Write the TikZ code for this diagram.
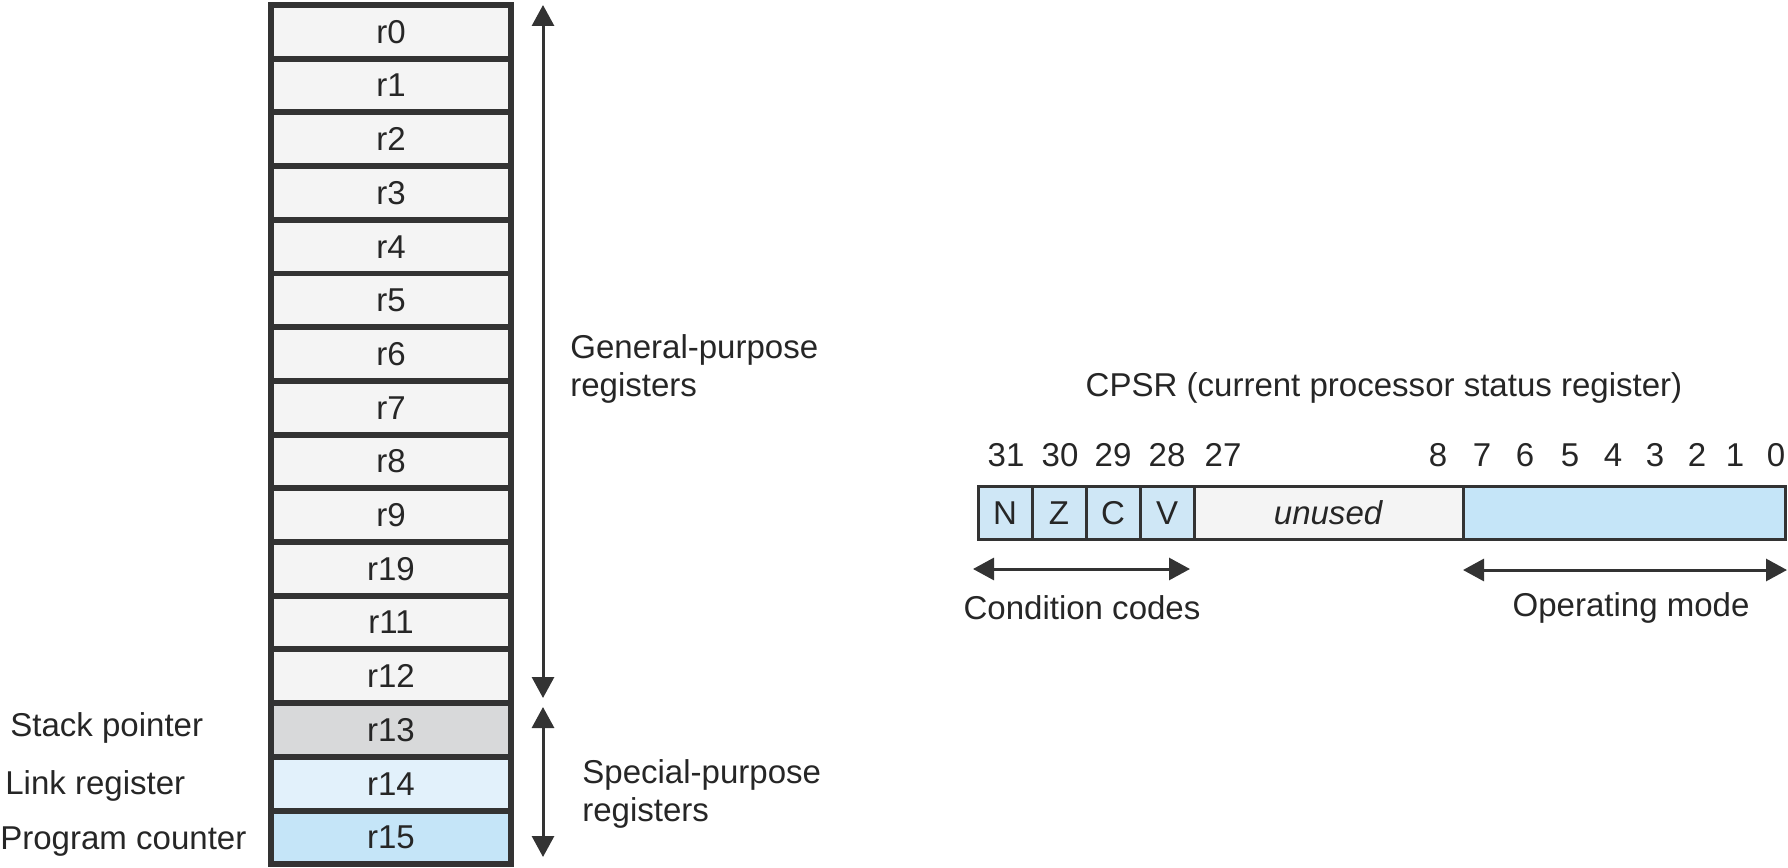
\documentclass[tikz,border=0pt]{standalone}
\usepackage{fontspec}
\setmainfont{Liberation Sans}
\usepackage{tikz}
\usetikzlibrary{arrows.meta}
\definecolor{regfill}{HTML}{F4F4F4}
\definecolor{spfill}{HTML}{D8D9DA}
\definecolor{lrfill}{HTML}{E2F1FB}
\definecolor{pcfill}{HTML}{C5E5F8}
\definecolor{flagfill}{HTML}{CFE7F6}
\definecolor{edge}{HTML}{333333}

\begin{document}
\begin{tikzpicture}[x=0.02cm,y=-0.02cm,
    every node/.style={font=\fontsize{18.8}{21.6}\selectfont, text=black!85, inner sep=0pt},
    regbox/.style={draw=edge, line width=0.12cm, minimum width=240*0.02cm, minimum height=53.7*0.02cm},
    bitbox/.style={draw=edge, line width=0.06cm, minimum height=53*0.02cm},
    dimarrow/.style={draw=edge, line width=0.06cm,
        {Triangle[width=0.44cm,length=0.42cm]}-{Triangle[width=0.44cm,length=0.42cm]}}]
            \useasboundingbox (0,0) rectangle (1788,868);
            \def\rowh{53.7}  % height of one register row

            % Register file
            \foreach \i/\lab/\col in {0/r0/regfill,1/r1/regfill,2/r2/regfill,3/r3/regfill,
                4/r4/regfill,5/r5/regfill,6/r6/regfill,7/r7/regfill,8/r8/regfill,
                9/r9/regfill,10/r19/regfill,11/r11/regfill,12/r12/regfill,
                13/r13/spfill,14/r14/lrfill,15/r15/pcfill} {
                \node[regbox, fill=\col] (reg\i) at (391, 31.85+\i*\rowh) {\lab};
            }

            % Draw register groups
            \coordinate (gp-top) at (543,5);
            \coordinate (gp-bot) at (543,698);
            \draw[dimarrow] (gp-top) -- (gp-bot);
            \node[anchor=west, align=left] (gp) at (570,369) {General-purpose\\registers};

            \coordinate (sp-top) at (543,707);
            \coordinate (sp-bot) at (543,857);
            \draw[dimarrow] (sp-top) -- (sp-bot);
            \node[anchor=west, align=left] (spr) at (582,794) {Special-purpose\\registers};

            \node[anchor=base west] (sp) at (10,736) {Stack pointer};
            \node[anchor=base west] (lr) at (5,794) {Link register};
            \node[anchor=base west] (pc) at (0,849) {Program counter};

            % Status register
            \node[anchor=base] (cpsr) at (1384,396) {CPSR (current processor status register)};
            \foreach \i/\f in {0/N,1/Z,2/C,3/V} {
                \node[bitbox, fill=flagfill, minimum width=54*0.02cm] (flag\f) at (1005+\i*54,513) {\f};
            }
            \node[bitbox, fill=regfill, minimum width=269*0.02cm] (unused) at (1328.5,513) {\textit{unused}};
            \node[bitbox, fill=pcfill, minimum width=322.5*0.02cm] (mode) at (1624.25,513) {};

            \foreach \n/\x in {31/1006,30/1060,29/1113,28/1167,27/1223,8/1438,7/1482,
                6/1525,5/1570,4/1613,3/1655,2/1697,1/1735,0/1776} {
                \node[anchor=base] (bit\n) at (\x,466) {\n};
            }

            % Draw field ranges
            \coordinate (cc-l) at (973,569);
            \coordinate (cc-r) at (1190,569);
            \draw[dimarrow] (cc-l) -- (cc-r);
            \node[anchor=base] (cc) at (1082,619) {Condition codes};

            \coordinate (om-l) at (1463,570);
            \coordinate (om-r) at (1787,570);
            \draw[dimarrow] (om-l) -- (om-r);
            \node[anchor=base] (om) at (1631,616) {Operating mode};
        \end{tikzpicture}
\end{document}
